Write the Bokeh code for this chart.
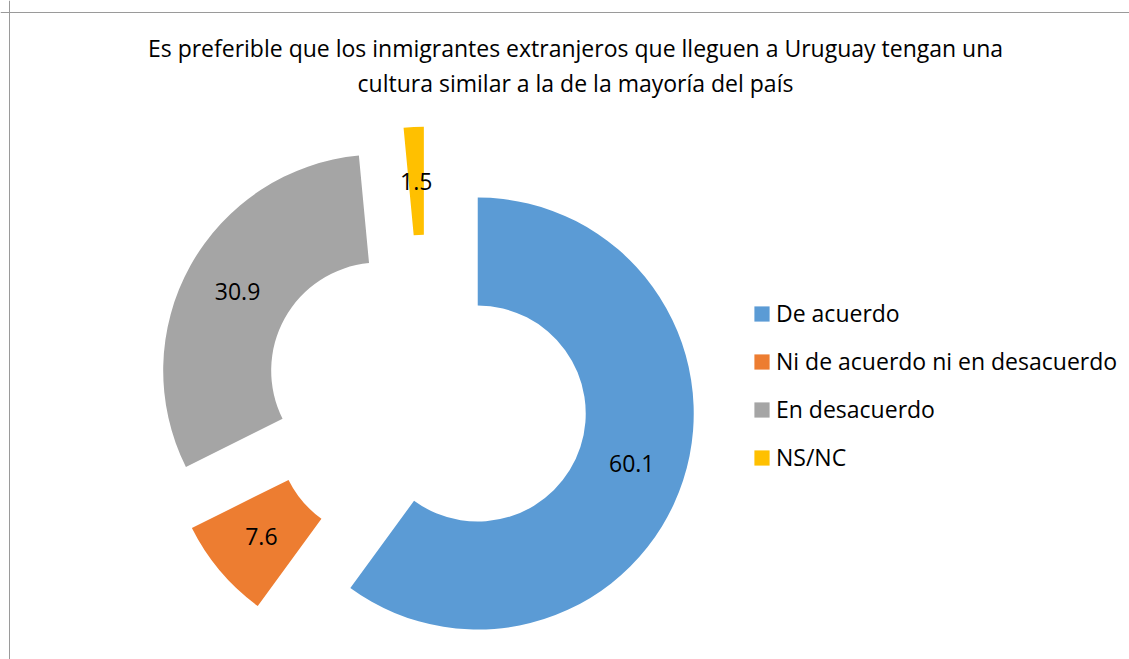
import numpy as np
from bokeh.plotting import figure
from bokeh.models import Range1d, Label, Legend, LegendItem, ColumnDataSource
from bokeh.embed import file_html
from bokeh.resources import INLINE
from bokeh.core.properties import value

# ---- data ----
categories = ["De acuerdo", "Ni de acuerdo ni en desacuerdo", "En desacuerdo", "NS/NC"]
values = [60.1, 7.6, 30.9, 1.5]
colors = ["#5B9BD5", "#ED7D31", "#A5A5A5", "#FFC000"]
value_labels = ["60.1", "7.6", "30.9", "1.5"]
title_lines = [
    "Es preferible que los inmigrantes extranjeros que lleguen a Uruguay tengan una",
    "cultura similar a la de la mayoría del país",
]

FONT = "Open Sans"
W, H = 1129, 659

p = figure(width=W, height=H, x_range=Range1d(0, W), y_range=Range1d(0, H),
           output_backend="svg", toolbar_location=None, min_border=0,
           x_axis_location=None, y_axis_location=None)
p.grid.visible = False
p.outline_line_color = None
p.background_fill_color = "white"
p.border_fill_color = "white"

# ---- donut geometry (pixels) ----
cx0, cy0 = 425.9, 262.7
outer_r, inner_r = 216, 108
explode = 54

vals = np.array(values)
total = vals.sum()
cum = np.concatenate([[0], np.cumsum(vals)])
t1 = cum[:-1] / total * 2 * np.pi      # clockwise from top
t2 = cum[1:] / total * 2 * np.pi
mid = (t1 + t2) / 2
xs = cx0 + explode * np.sin(mid)
ys = cy0 + explode * np.cos(mid)
lab_r = (outer_r + inner_r) / 2

src = ColumnDataSource(dict(
    x=xs, y=ys,
    start=np.pi / 2 - t2, end=np.pi / 2 - t1,
    color=colors, cat=categories,
    lx=xs + lab_r * np.sin(mid), ly=ys + lab_r * np.cos(mid),
    lab=value_labels,
))

p.annular_wedge(x="x", y="y", inner_radius=inner_r, outer_radius=outer_r,
                inner_radius_units="screen", outer_radius_units="screen",
                start_angle="start", end_angle="end", direction="anticlock",
                fill_color="color", line_color=None, source=src)

p.text(x="lx", y="ly", text="lab", source=src, text_align="center",
       text_baseline="middle", text_font=value(FONT), text_font_size="23px",
       text_color="#000000")

# ---- legend (zero-size swatch renderer carrying the colours) ----
sw = p.rect(x="x", y="y", width=0, height=0, fill_color="color",
            line_color=None, source=src)
items = [LegendItem(label=cat, renderers=[sw], index=i)
         for i, cat in enumerate(categories)]

legend = Legend(items=items, location=(752, 186), orientation="vertical",
                glyph_width=19, glyph_height=19, label_height=19,
                label_standoff=5, spacing=16, padding=0, margin=0,
                border_line_color=None, background_fill_alpha=0,
                label_text_font=FONT, label_text_font_size="23px",
                label_text_color="#000000")
p.add_layout(legend, "center")

# ---- title ----
base_y = [612, 577]
for line, by in zip(title_lines, base_y):
    p.add_layout(Label(x=575, y=by, text=line, text_align="center",
                       text_baseline="alphabetic", text_font=FONT,
                       text_font_size="23px", text_color="#000000"))

# ---- chart border (left and top edges) ----
p.vspan(x=[8.5], line_color="#9a9a9a", line_width=1)
p.hspan(y=[647.5], line_color="#9a9a9a", line_width=1)

open("out.html", "w").write(file_html(p, INLINE))
